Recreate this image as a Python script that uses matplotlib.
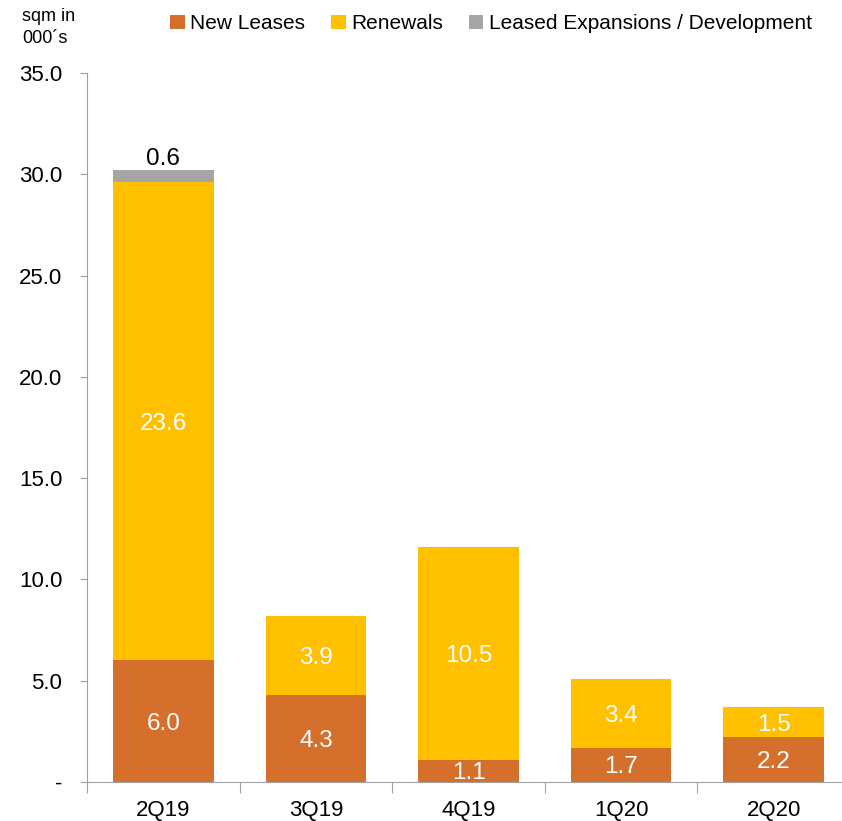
import matplotlib
matplotlib.use("Agg")
import matplotlib.pyplot as plt
import numpy as np

quarters = ["2Q19", "3Q19", "4Q19", "1Q20", "2Q20"]
new_leases = [6.0, 4.3, 1.1, 1.7, 2.2]
renewals = [23.6, 3.9, 10.5, 3.4, 1.5]
expansions = [0.6, 0.0, 0.0, 0.0, 0.0]

yticks = [0, 5, 10, 15, 20, 25, 30, 35]
ytick_labels = ["-", "5.0", "10.0", "15.0", "20.0", "25.0", "30.0", "35.0"]

ORANGE = "#D4702B"
YELLOW = "#FFC000"
GREY = "#A5A5A5"
FONT = ["Liberation Sans", "DejaVu Sans"]

fig = plt.figure(figsize=(8.42, 8.21), dpi=100)
ax = fig.add_axes([0.1035, 0.0475, 0.906, 0.8635])

x = np.arange(len(quarters))
w = 0.66
new_arr = np.array(new_leases)
ren_arr = np.array(renewals)
exp_arr = np.array(expansions)

b1 = ax.bar(x, new_arr, w, color=ORANGE, label="New Leases")
b2 = ax.bar(x, ren_arr, w, bottom=new_arr, color=YELLOW, label="Renewals")
b3 = ax.bar(x, exp_arr, w, bottom=new_arr + ren_arr, color=GREY,
            label="Leased Expansions / Development")

# value labels: white inside the stacks, black above the thin top segment
for i in range(len(quarters)):
    ax.text(x[i], new_arr[i] / 2, f"{new_arr[i]:.1f}", ha="center",
            va="center_baseline", color="white", fontsize=17.5, family=FONT)
    ax.text(x[i], new_arr[i] + ren_arr[i] / 2, f"{ren_arr[i]:.1f}", ha="center",
            va="center_baseline", color="white", fontsize=17.5, family=FONT)
    if exp_arr[i] > 0:
        top = new_arr[i] + ren_arr[i] + exp_arr[i]
        ax.text(x[i], top, f"{exp_arr[i]:.1f}", ha="center", va="bottom",
                color="black", fontsize=17.5, family=FONT)

ax.set_xlim(-0.5, len(quarters) - 0.5)
ax.set_ylim(0, 35)
ax.set_yticks(yticks)
ax.set_yticklabels(ytick_labels, family=FONT, fontsize=16)
ax.tick_params(axis="y", length=5, color="#A0A0A0", pad=13)

# category labels sit between the boundary ticks
ax.set_xticks(np.arange(len(quarters) + 1) - 0.5)
ax.set_xticklabels([])
ax.set_xticks(x, minor=True)
ax.set_xticklabels(quarters, minor=True, family=FONT, fontsize=16)
ax.tick_params(axis="x", which="major", length=8, color="#A0A0A0")
ax.tick_params(axis="x", which="minor", length=0, pad=13)

for side in ("top", "right"):
    ax.spines[side].set_visible(False)
for side in ("left", "bottom"):
    ax.spines[side].set_color("#A0A0A0")

fig.text(0.026, 0.99, "sqm in\n000´s", ha="left", va="top", fontsize=13,
         family=FONT, linespacing=1.35)

fig.legend(handles=[b1, b2, b3], loc="upper left", bbox_to_anchor=(0.18, 1.0055),
           ncol=3, frameon=False, prop={"family": FONT, "size": 15},
           handlelength=0.7, handleheight=0.7, handletextpad=0.25,
           columnspacing=1.25)

fig.savefig("out.png", dpi=100)
